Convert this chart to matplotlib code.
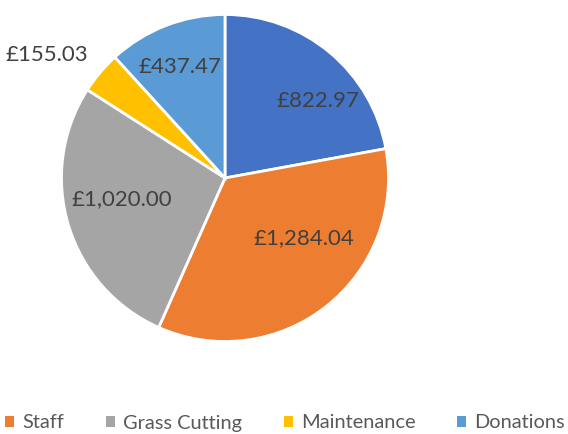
import matplotlib
matplotlib.use("Agg")
import matplotlib.pyplot as plt
from matplotlib.patches import Patch

categories = ["", "Staff", "Grass Cutting", "Maintenance", "Donations"]
values = [822.97, 1284.04, 1020.00, 155.03, 437.47]
labels = ["£822.97", "£1,284.04", "£1,020.00", "£155.03", "£437.47"]
colors = ["#4472C4", "#ED7D31", "#A5A5A5", "#FFC000", "#5B9BD5"]
label_pos = [(318, 101), (304, 238), (122, 199), (47, 55), (180, 67)]

plt.rcParams['font.family'] = ['Lato', 'DejaVu Sans']

fig = plt.figure(figsize=(5.68, 4.34), dpi=100)
ax = fig.add_axes([0, 0, 1, 1])
ax.pie(values, colors=colors, startangle=90, counterclock=False,
       center=(225, 434 - 178), radius=163.5,
       wedgeprops=dict(edgecolor="white", linewidth=2))
ax.set_xlim(0, 568)
ax.set_ylim(0, 434)
ax.set_aspect('equal')
ax.axis('off')

for lab, (x, y) in zip(labels, label_pos):
    ax.text(x, 434 - y, lab, ha='center', va='center', fontsize=16, color='#404040')

handles = [Patch(facecolor=c, edgecolor='none') for c in colors[1:]]
fig.legend(handles, categories[1:], loc='center', bbox_to_anchor=(285 / 568, 1 - 423 / 434),
           ncol=4, frameon=False, fontsize=14.4, labelcolor='#595959',
           handlelength=0.45, handleheight=0.45, handletextpad=0.4, columnspacing=2.1,
           borderpad=0, borderaxespad=0)

fig.savefig("out.png", dpi=100)
